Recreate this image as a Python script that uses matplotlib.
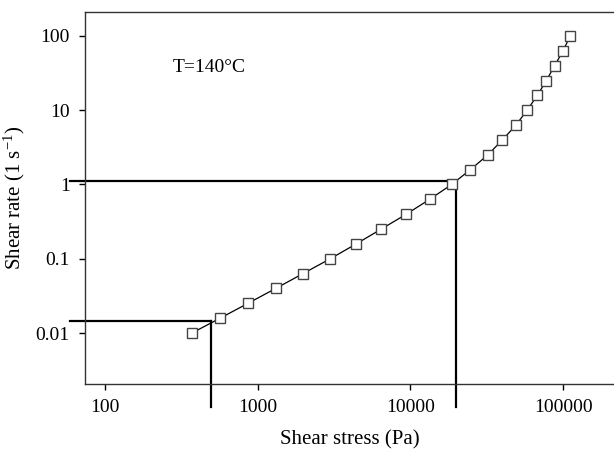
import numpy as np
import matplotlib
matplotlib.use("Agg")
import matplotlib.pyplot as plt

plt.rcParams["font.family"] = ["Liberation Serif", "DejaVu Serif"]
plt.rcParams["mathtext.fontset"] = "custom"
plt.rcParams["mathtext.rm"] = "Liberation Serif"
plt.rcParams["mathtext.it"] = "Liberation Serif:italic"

# shear stress (Pa) / shear rate (1/s)
stress = [371, 566, 864, 1312, 1980, 2988, 4405, 6447, 9400, 13370, 18630,
          24670, 32200, 40000, 49170, 58050, 67790, 77600, 88100, 99800, 111400]
rate = [0.01, 0.0158, 0.0251, 0.0398, 0.0631, 0.1, 0.158, 0.251, 0.398, 0.631, 1.0,
        1.58, 2.51, 3.98, 6.31, 10, 15.8, 25.1, 39.8, 63.1, 100]

# guide lines (x of vertical, y of horizontal)
guide_x = [492, 20000]
guide_y = [0.0145, 1.11]
x_start = 59
y_end = 0.00101

xticks = [100, 1000, 10000, 100000]
yticks = [0.01, 0.1, 1, 10, 100]
yticklabels = ["0.01", "0.1", "1", "10", "100"]

fig = plt.figure(figsize=(6.14, 4.5), dpi=100)
ax = fig.add_axes([0.1384, 0.1467, 0.8616, 0.8266])

ax.plot(stress, rate, "-", color="black", lw=0.9, marker="s", ms=6.5,
        mfc="white", mec="#444444", mew=1.0, zorder=3)

for gx, gy in zip(guide_x, guide_y):
    ax.plot([x_start, gx], [gy, gy], color="black", lw=1.6, clip_on=False, zorder=2)
    ax.plot([gx, gx], [gy, y_end], color="black", lw=1.6, clip_on=False, zorder=2)

ax.set_xscale("log")
ax.set_yscale("log")
ax.set_xlim(74, 215400)
ax.set_ylim(0.00206, 210)

ax.set_xticks(xticks)
ax.set_xticklabels([str(v) for v in xticks])
ax.set_yticks(yticks)
ax.set_yticklabels(yticklabels)
ax.minorticks_off()
ax.tick_params(direction="out", length=4, width=1, labelsize=14, pad=6.5)
ax.tick_params(axis="y", pad=7)

ax.spines["right"].set_visible(False)
for s in ["left", "bottom", "top"]:
    ax.spines[s].set_color("#333333")
    ax.spines[s].set_linewidth(1.0)

ax.set_xlabel("Shear stress (Pa)", fontsize=15, labelpad=10.5)
ax.set_ylabel("Shear rate (1 s$^{-1}$)", fontsize=15, labelpad=6)

ax.text(0.234, 0.852, "T=140°C", transform=ax.transAxes, fontsize=14,
        ha="center", va="center")

fig.savefig("out.png", dpi=100)
